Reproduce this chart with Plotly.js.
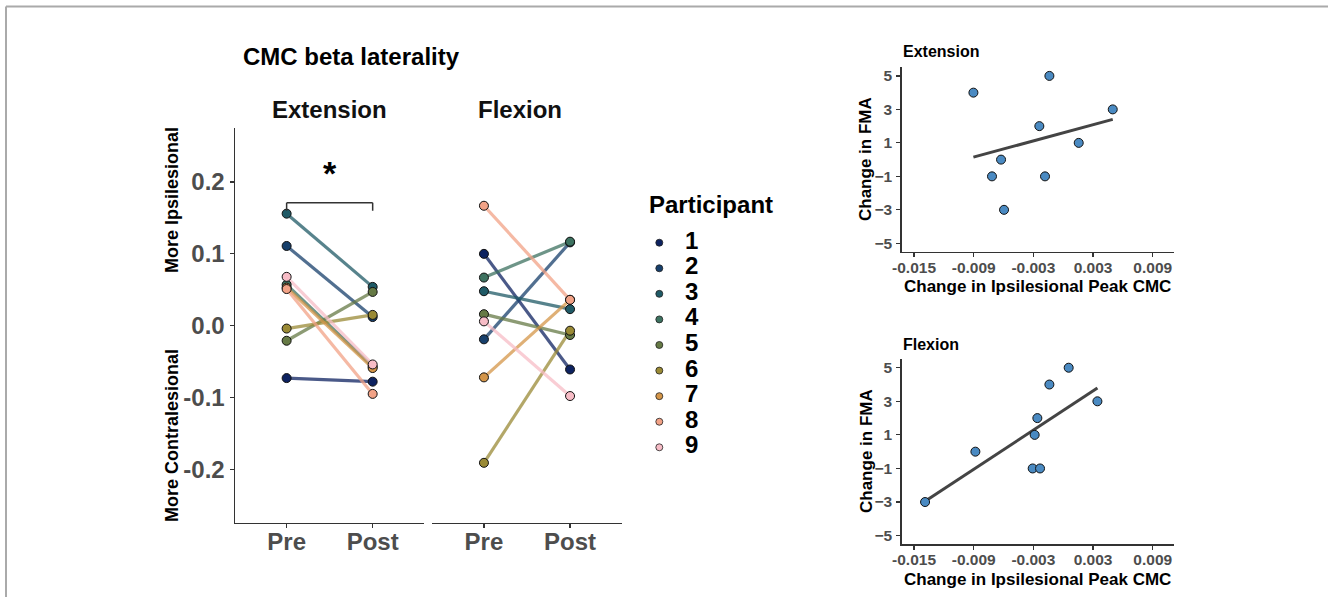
<!DOCTYPE html>
<html><head><meta charset="utf-8">
<script src="https://cdn.plot.ly/plotly-3.0.1.min.js"></script>
<style>html,body{margin:0;padding:0;background:#fff}#chart{width:1328px;height:597px}</style>
</head><body><div id="chart"></div>
<script>
// ---------- data ----------
const participants = ['1','2','3','4','5','6','7','8','9'];
const participantColors = ['#0d2260','#173f6b','#1f5a66','#3d7260','#667a45','#9a8a35','#d49548','#f2a286','#f7bcc6'];
const timepoints = ['Pre','Post'];
const extensionPre  = [-0.073, 0.111, 0.156, 0.057, -0.021, -0.004, 0.053, 0.051, 0.068];
const extensionPost = [-0.078, 0.012, 0.054, -0.057, 0.047, 0.015, -0.059, -0.095, -0.054];
const flexionPre    = [0.100, -0.019, 0.048, 0.067, 0.016, -0.191, -0.072, 0.167, 0.006];
const flexionPost   = [-0.061, 0.116, 0.023, 0.117, -0.013, -0.007, 0.036, 0.036, -0.098];
const lateralityTicks = [-0.2, -0.1, 0.0, 0.1, 0.2];
const lateralityTickText = ['-0.2', '-0.1', '0.0', '0.1', '0.2'];

const extCMCChange = [-0.00903, -0.00139, 0.00498, -0.0024, 0.00156, -0.00625, -0.00716, -0.00183, -0.00595];
const extFMAChange = [4, 5, 3, 2, 1, 0, -1, -1, -3];
const flxCMCChange = [-0.01389, -0.00883, -0.00307, -0.00233, -0.00287, -0.0026, -0.00139, 0.00055, 0.00344];
const flxFMAChange = [-3, 0, -1, -1, 1, 2, 4, 5, 3];
const cmcTicks = [-0.015, -0.009, -0.003, 0.003, 0.009];
const cmcTickText = ['-0.015', '-0.009', '-0.003', '0.003', '0.009'];
const fmaTicks = [-5, -3, -1, 1, 3, 5];

const sigBracket = {y: 0.1713, tip: 0.160, starY: 0.2127, label: '*'};

// ---------- helpers ----------
const W = 1328, H = 597;
const FONT = 'Liberation Sans, Arial, sans-serif';
const px = v => v / W;
const py = v => 1 - v / H;
function hexA(hex, a) {
  const n = parseInt(hex.slice(1), 16);
  return `rgba(${(n >> 16) & 255},${(n >> 8) & 255},${n & 255},${a})`;
}
function linFit(xs, ys) {
  const n = xs.length;
  const mx = xs.reduce((s, v) => s + v, 0) / n;
  const my = ys.reduce((s, v) => s + v, 0) / n;
  let sxy = 0, sxx = 0;
  for (let i = 0; i < n; i++) { sxy += (xs[i] - mx) * (ys[i] - my); sxx += (xs[i] - mx) ** 2; }
  const b = sxy / sxx, a = my - b * mx;
  const x0 = Math.min(...xs), x1 = Math.max(...xs);
  return {x: [x0, x1], y: [a + b * x0, a + b * x1]};
}

const traces = [];
// lines first
[[extensionPre, extensionPost, 'x', 'y'], [flexionPre, flexionPost, 'x2', 'y']].forEach(([pre, post, xa, ya]) => {
  participants.forEach((p, i) => {
    traces.push({type: 'scatter', mode: 'lines', x: timepoints, y: [pre[i], post[i]], xaxis: xa, yaxis: ya,
      line: {color: hexA(participantColors[i], 0.75), width: 3.2}, showlegend: false, hoverinfo: 'skip'});
  });
});
// points on top
[[extensionPre, extensionPost, 'x', 'y'], [flexionPre, flexionPost, 'x2', 'y']].forEach(([pre, post, xa, ya]) => {
  participants.forEach((p, i) => {
    traces.push({type: 'scatter', mode: 'markers', x: timepoints, y: [pre[i], post[i]], xaxis: xa, yaxis: ya,
      marker: {color: participantColors[i], size: 9, line: {color: '#111', width: 1}}, showlegend: false, name: p});
  });
});
// scatter panels
[[extCMCChange, extFMAChange, 'x3', 'y3'], [flxCMCChange, flxFMAChange, 'x4', 'y4']].forEach(([xs, ys, xa, ya]) => {
  const f = linFit(xs, ys);
  traces.push({type: 'scatter', mode: 'lines', x: f.x, y: f.y, xaxis: xa, yaxis: ya,
    line: {color: '#444444', width: 3}, showlegend: false, hoverinfo: 'skip'});
  traces.push({type: 'scatter', mode: 'markers', x: xs, y: ys, xaxis: xa, yaxis: ya,
    marker: {color: '#4a8ac2', size: 9, line: {color: '#111', width: 1}}, showlegend: false});
});
// manual legend
traces.push({type: 'scatter', mode: 'markers', x: participants.map(() => 9.3), y: participants.map((p, i) => i),
  xaxis: 'x5', yaxis: 'y5', marker: {color: participantColors, size: 7, line: {color: '#222', width: 0.8}},
  showlegend: false, hoverinfo: 'skip'});
traces.push({type: 'scatter', mode: 'text', x: participants.map(() => 41.7), y: participants.map((p, i) => i),
  text: participants, textposition: 'middle center', xaxis: 'x5', yaxis: 'y5',
  textfont: {family: FONT, size: 24, color: '#000', weight: 'bold'}, showlegend: false, hoverinfo: 'skip'});

const axLine = {showline: true, linecolor: '#333', linewidth: 1.5, ticks: 'outside', ticklen: 4, tickwidth: 1.2,
  tickcolor: '#333', showgrid: false, zeroline: false, fixedrange: true};
const bigTick = {family: FONT, size: 24, color: '#4d4d4d', weight: 'bold'};
const smallTick = {family: FONT, size: 15.5, color: '#4d4d4d', weight: 'bold'};

const layout = {
  width: W, height: H, margin: {l: 0, r: 0, t: 0, b: 0}, paper_bgcolor: '#fff', plot_bgcolor: 'rgba(0,0,0,0)',
  showlegend: false, font: {family: FONT},
  xaxis: Object.assign({}, axLine, {domain: [px(235), px(424.3)], anchor: 'y', type: 'category',
    categoryorder: 'array', categoryarray: timepoints, range: [-0.6, 1.6], tickfont: bigTick, ticklabelstandoff: -7}),
  xaxis2: Object.assign({}, axLine, {domain: [px(432.3), px(621.7)], anchor: 'y', type: 'category',
    categoryorder: 'array', categoryarray: timepoints, range: [-0.6, 1.6], tickfont: bigTick, ticklabelstandoff: -7}),
  yaxis: Object.assign({}, axLine, {domain: [py(522.7), py(128)], anchor: 'x', range: [-0.2744, 0.2753],
    tickvals: lateralityTicks, ticktext: lateralityTickText, tickfont: bigTick}),
  xaxis3: Object.assign({}, axLine, {domain: [px(901.7), px(1174)], anchor: 'y3', range: [-0.01624, 0.01114],
    tickvals: cmcTicks, ticktext: cmcTickText, tickfont: smallTick, ticklabelstandoff: -3}),
  yaxis3: Object.assign({}, axLine, {domain: [py(251.7), py(66.7)], anchor: 'x3', range: [-5.5, 5.55],
    tickvals: fmaTicks, tickfont: smallTick, ticklabelstandoff: 1}),
  xaxis4: Object.assign({}, axLine, {domain: [px(901.7), px(1174)], anchor: 'y4', range: [-0.01624, 0.01114],
    tickvals: cmcTicks, ticktext: cmcTickText, tickfont: smallTick, ticklabelstandoff: -3}),
  yaxis4: Object.assign({}, axLine, {domain: [py(544), py(358.5)], anchor: 'x4', range: [-5.5, 5.55],
    tickvals: fmaTicks, tickfont: smallTick, ticklabelstandoff: 1}),
  xaxis5: {domain: [px(650), px(710)], anchor: 'y5', range: [0, 60], visible: false, fixedrange: true},
  yaxis5: {domain: [py(460.1), py(229.9)], anchor: 'x5', range: [8.5, -0.5], visible: false, fixedrange: true},
  shapes: [
    {type: 'line', xref: 'paper', yref: 'paper', x0: px(6), x1: 1, y0: py(6.5), y1: py(6.5), line: {color: '#aaaaaa', width: 2}},
    {type: 'line', xref: 'paper', yref: 'paper', x0: px(6), x1: px(6), y0: py(6.5), y1: 0, line: {color: '#aaaaaa', width: 2}},
    {type: 'line', xref: 'x', yref: 'y', x0: 'Pre', x1: 'Pre', y0: sigBracket.tip, y1: sigBracket.y, line: {color: '#333', width: 1.5}},
    {type: 'line', xref: 'x', yref: 'y', x0: 'Pre', x1: 'Post', y0: sigBracket.y, y1: sigBracket.y, line: {color: '#333', width: 1.5}},
    {type: 'line', xref: 'x', yref: 'y', x0: 'Post', x1: 'Post', y0: sigBracket.y, y1: sigBracket.tip, line: {color: '#333', width: 1.5}}
  ],
  annotations: [
    {text: '<b>CMC beta laterality</b>', xref: 'paper', yref: 'paper', x: px(241), y: py(57), xanchor: 'left', yanchor: 'middle', showarrow: false, font: {size: 24, color: '#000'}},
    {text: '<b>Extension</b>', xref: 'paper', yref: 'paper', x: px(329.6), y: py(110), xanchor: 'center', yanchor: 'middle', showarrow: false, font: {size: 24, color: '#111'}},
    {text: '<b>Flexion</b>', xref: 'paper', yref: 'paper', x: px(520), y: py(110), xanchor: 'center', yanchor: 'middle', showarrow: false, font: {size: 24, color: '#111'}},
    {text: '<b>More Ipsilesional</b>', xref: 'paper', yref: 'paper', x: px(172), y: py(200), textangle: -90, xanchor: 'center', yanchor: 'middle', showarrow: false, font: {size: 18, color: '#000'}},
    {text: '<b>More Contralesional</b>', xref: 'paper', yref: 'paper', x: px(172), y: py(436), textangle: -90, xanchor: 'center', yanchor: 'middle', showarrow: false, font: {size: 18, color: '#000'}},
    {text: '<b>' + sigBracket.label + '</b>', xref: 'paper', yref: 'y', x: px(330), y: sigBracket.starY, xanchor: 'center', yanchor: 'middle', showarrow: false, font: {size: 34, color: '#000'}},
    {text: '<b>Participant</b>', xref: 'paper', yref: 'paper', x: px(647), y: py(205), xanchor: 'left', yanchor: 'middle', showarrow: false, font: {size: 24, color: '#000'}},
    {text: '<b>Extension</b>', xref: 'paper', yref: 'paper', x: px(901), y: py(52), xanchor: 'left', yanchor: 'middle', showarrow: false, font: {size: 16, color: '#000'}},
    {text: '<b>Flexion</b>', xref: 'paper', yref: 'paper', x: px(901), y: py(344), xanchor: 'left', yanchor: 'middle', showarrow: false, font: {size: 16, color: '#000'}},
    {text: '<b>Change in Ipsilesional Peak CMC</b>', xref: 'paper', yref: 'paper', x: px(1037.5), y: py(286), xanchor: 'center', yanchor: 'middle', showarrow: false, font: {size: 17, color: '#000'}},
    {text: '<b>Change in Ipsilesional Peak CMC</b>', xref: 'paper', yref: 'paper', x: px(1037.5), y: py(579), xanchor: 'center', yanchor: 'middle', showarrow: false, font: {size: 17, color: '#000'}},
    {text: '<b>Change in FMA</b>', xref: 'paper', yref: 'paper', x: px(866), y: py(159), textangle: -90, xanchor: 'center', yanchor: 'middle', showarrow: false, font: {size: 17, color: '#000'}},
    {text: '<b>Change in FMA</b>', xref: 'paper', yref: 'paper', x: px(866), y: py(451), textangle: -90, xanchor: 'center', yanchor: 'middle', showarrow: false, font: {size: 17, color: '#000'}}
  ]
};

Plotly.newPlot('chart', traces, layout, {displayModeBar: false, staticPlot: true});
</script>
</body></html>
